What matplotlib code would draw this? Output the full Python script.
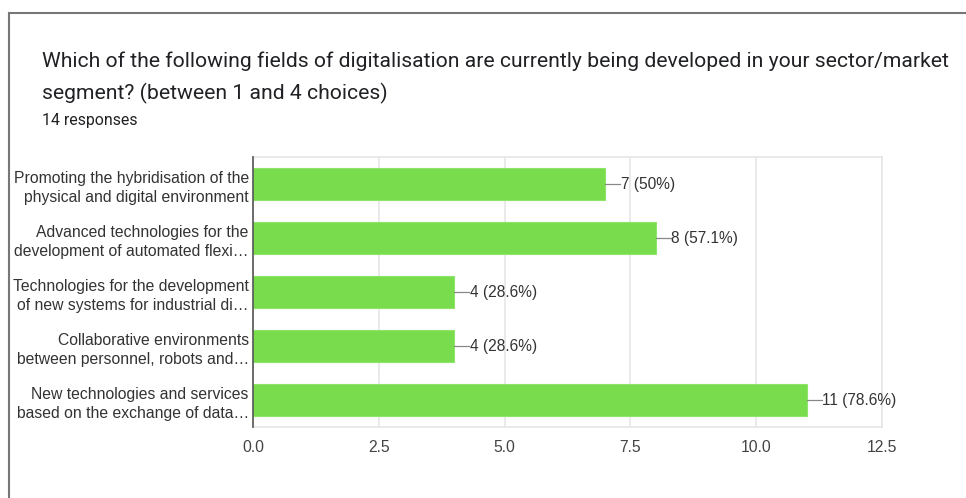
#!/usr/bin/env python3

import matplotlib
matplotlib.use('Agg')
import matplotlib.pyplot as plt
from matplotlib.lines import Line2D

title_lines = [
    'Which of the following fields of digitalisation are currently being developed in your sector/market',
    'segment? (between 1 and 4 choices)',
]
subtitle = '14 responses'
total = 14

categories = [
    'Promoting the hybridisation of the\nphysical and digital environment',
    'Advanced technologies for the\ndevelopment of automated flexi\u2026',
    'Technologies for the development\nof new systems for industrial di\u2026',
    'Collaborative environments\nbetween personnel, robots and\u2026',
    'New technologies and services\nbased on the exchange of data\u2026',
]
counts = [7, 8, 4, 4, 11]
xticks = [0.0, 2.5, 5.0, 7.5, 10.0, 12.5]

bar_color = '#78dc4c'
text_color = '#333333'
grid_color = '#e6e6e6'


def main():
    plt.rcParams['font.family'] = ['Liberation Sans', 'DejaVu Sans']

    fig = plt.figure(figsize=(9.66, 4.98), dpi=100)
    ax = fig.add_axes([253 / 966, 71 / 498, 629 / 966, 270 / 498])

    ypos = list(range(len(categories)))
    ax.barh(ypos, counts, height=0.59, color=bar_color, edgecolor='#8fe46c',
            linewidth=0.8, zorder=3)

    # leader lines and value labels
    for y, v in zip(ypos, counts):
        pct = round(v / total * 100, 1)
        ax.plot([v, v + 0.3], [y, y], color='#888888', lw=0.9, zorder=3)
        ax.text(v + 0.31, y, '{} ({:g}%)'.format(v, pct), va='center', ha='left',
                fontsize=11.2, color=text_color)

    ax.set_xlim(0, 12.5)
    ax.set_ylim(len(categories) - 0.5, -0.5)
    ax.set_xticks(xticks)
    ax.set_xticklabels(['{:.1f}'.format(t) for t in xticks])
    ax.set_yticks(ypos)
    ax.set_yticklabels(categories, fontsize=11.3, color=text_color, linespacing=1.38)
    ax.tick_params(axis='x', length=0, pad=9, labelsize=11.3, labelcolor='#444444')
    ax.tick_params(axis='y', length=0, pad=3)

    ax.grid(axis='x', color=grid_color, lw=1.2, zorder=0)
    for side in ['top', 'right', 'bottom']:
        ax.spines[side].set_color(grid_color)
        ax.spines[side].set_linewidth(1.2)
    ax.spines['left'].set_color('#555555')
    ax.spines['left'].set_linewidth(1.2)
    ax.spines['left'].set_zorder(4)

    title_font = ['Roboto', 'DejaVu Sans']
    for i, line in enumerate(title_lines):
        fig.text(42 / 966, 1 - (61 + 32 * i) / 498, line, fontsize=15.2, color='#202124',
                 family=title_font, va='center', ha='left')
    fig.text(42 / 966, 1 - 120 / 498, subtitle, fontsize=11.4, color='#202124',
             family=title_font, va='center', ha='left')

    # outer card border
    fig.add_artist(Line2D([9 / 966, 9 / 966], [0, 1 - 13 / 498], color='#777777', lw=1.5))
    fig.add_artist(Line2D([9 / 966, 1], [1 - 13 / 498, 1 - 13 / 498], color='#777777', lw=1.5))

    fig.savefig('out.png', dpi=100)


if __name__ == '__main__':
    main()
